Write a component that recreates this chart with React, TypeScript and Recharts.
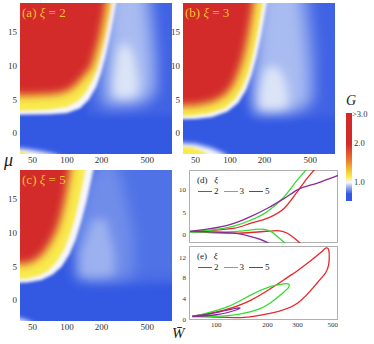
import React from 'react'
import { ComposedChart, Area, Line, XAxis, YAxis } from 'recharts'

type Pair = [number, number]
type Range = [number, [number, number]]

const SERIF = '"Liberation Serif", "Times New Roman", serif'

// heat map colours
const BLUE = '#3358e2'
const LIGHTBLUE = '#3f62e4'
const WHITE = '#f6f6fb'
const YELLOW = '#f8ea4e'
const RED = '#d3292b'
const LABEL = '#f2c12e'

const wTicks = [50, 100, 200, 500]
const muTicks = [0, 5, 10, 15]

// (a) xi = 2  -- region boundaries, [W, mu]
const redA: Pair[] = [[25, 5.6], [50, 5.6], [80, 5.8], [100, 6.2], [115, 6.9], [130, 7.8], [145, 8.8], [162, 9.7], [180, 12.2], [193, 14.1], [207, 16.6], [220, 19.1], [232, 22], [245, 26]]
const yellowA: Pair[] = [[25, 3.3], [39, 3.3], [71, 3.5], [100, 3.9], [125, 4.8], [145, 6.0], [168, 7.9], [184, 9.7], [201, 12.2], [214, 14.1], [229, 16.6], [244, 19.1], [258, 22], [272, 26]]
const whiteA: Pair[] = [[25, 2.7], [71, 2.8], [100, 3.0], [130, 3.7], [155, 5.0], [180, 6.9], [198, 8.9], [216, 11.3], [233, 13.8], [250, 16.4], [266, 19], [282, 22], [298, 26]]
const hazeA: Range[] = [[185, [4.6, 7]], [205, [3.8, 12]], [230, [3.6, 26]], [380, [3.8, 26]], [470, [4.2, 26]], [560, [5.0, 20]], [620, [6, 12]]]
const lobeA: Range[] = [[225, [4.8, 9]], [250, [4.6, 20]], [300, [4.6, 26]], [380, [4.7, 26]], [440, [5.0, 24]], [500, [5.6, 16]], [540, [6.5, 10]]]
const coreA: Range[] = [[255, [5.6, 8]], [280, [5.2, 12.5]], [330, [5.2, 13.5]], [380, [5.4, 11.5]], [415, [5.9, 8]]]
const lightA: Range[] = [[150, [2.6, 26]], [1000, [2.6, 26]]]
const spotWA: Range[] = [[30, [-6, -2.2]], [45, [-6, -2.4]], [62, [-6, -2.8]], [80, [-6, -3.2]], [90, [-6, -3.7]]]
const spotYA: Range[] = [[30, [-6, -2.5]], [40, [-6, -2.7]], [50, [-6, -3.3]]]

// (b) xi = 3
const redB: Pair[] = [[25, 4.0], [50, 4.1], [70, 4.6], [90, 5.6], [105, 7.0], [118, 8.9], [128, 10.7], [138, 12.9], [148, 15.5], [158, 18.4], [168, 22], [178, 26]]
const yellowB: Pair[] = [[25, 2.5], [45, 2.55], [65, 2.9], [90, 3.7], [112, 5.1], [130, 6.9], [145, 9.0], [158, 11.5], [170, 14], [183, 17], [197, 20], [212, 26]]
const whiteB: Pair[] = [[25, 2.0], [50, 2.1], [70, 2.4], [95, 3.2], [118, 4.5], [138, 6.4], [154, 8.6], [170, 11.3], [185, 14.2], [201, 17.6], [217, 21], [235, 26]]
const hazeB: Range[] = [[150, [3.6, 6]], [165, [3.0, 12]], [185, [2.9, 26]], [330, [3.0, 26]], [420, [3.4, 26]], [500, [4.0, 20]], [560, [5, 12]]]
const lobeB: Range[] = [[170, [3.4, 8]], [190, [3.2, 18]], [220, [3.2, 26]], [300, [3.3, 26]], [370, [3.6, 24]], [430, [4.2, 16]], [470, [5, 9]]]
const coreB: Range[] = [[180, [3.7, 6]], [200, [3.5, 9.5]], [240, [3.5, 10]], [285, [3.6, 9]], [320, [3.9, 6]]]
const lightB: Range[] = [[150, [2.3, 26]], [1000, [2.3, 26]]]
const spotWB: Range[] = [[30, [-6, -1.4]], [50, [-6, -1.6]], [68, [-6, -2.2]], [85, [-6, -2.9]], [98, [-6, -3.6]]]
const spotYB: Range[] = [[30, [-6, -1.9]], [46, [-6, -2.1]], [58, [-6, -2.7]], [66, [-6, -3.5]]]

// (c) xi = 5
const redC: Pair[] = [[25, 5.3], [45, 5.4], [55, 6.1], [64, 7.2], [72, 8.6], [81, 10.3], [89, 12.4], [96, 14.8], [103, 17.6], [110, 20.5], [120, 25]]
const yellowC: Pair[] = [[25, 3.0], [45, 3.2], [58, 3.7], [70, 4.5], [82, 5.8], [95, 7.6], [106, 9.7], [117, 12.1], [127, 14.7], [137, 17.3], [147, 20], [160, 25]]
const whiteC: Pair[] = [[25, 2.5], [45, 2.6], [60, 3.0], [75, 3.8], [90, 5.0], [105, 6.8], [119, 9.0], [133, 11.7], [148, 14.7], [163, 18], [178, 21], [195, 25]]
const hazeC: Range[] = [[120, [3.0, 26]], [250, [2.8, 26]], [450, [3.0, 26]], [700, [3.2, 26]], [1000, [3.2, 26]]]
const lobeC: Range[] = [[120, [3.2, 10]], [160, [3.0, 18]], [230, [3.0, 22]], [300, [3.2, 18]], [380, [3.6, 10]]]
const coreC: Range[] = [[130, [3.6, 7]], [170, [3.4, 12]], [220, [3.5, 12]], [260, [3.8, 7]]]
const lightC: Range[] = [[150, [2.6, 26]], [1000, [2.6, 26]]]
const spotWC: Range[] = [[30, [-6, -2.5]], [38, [-6, -2.7]], [46, [-6, -3.1]], [52, [-6, -3.7]]]
const spotYC: Range[] = []

// (d) phase boundaries, [W, mu]
const dRedUp: Pair[] = [[70, 0.72], [128, 1.5], [160, 2.6], [200, 3.7], [251, 5.9], [300, 9.6], [343, 12.6], [376, 14.4], [400, 15.6]]
const dRedLo: Pair[] = [[70, 0.72], [128, 0.37], [183, 0.7], [229, 0.96], [262, 0.37], [287, -0.7], [314, -2], [330, -3]]
const dGreenUp: Pair[] = [[70, 0.62], [128, 2.0], [160, 3.3], [200, 5.2], [251, 8.5], [300, 12.2], [336, 14.4], [360, 16]]
const dGreenLo: Pair[] = [[70, 0.62], [128, 0.74], [183, 1.26], [210, 0.74], [234, -0.7], [256, -2], [270, -3]]
const dPurpleUp: Pair[] = [[70, 0.8], [128, 2.6], [160, 4.1], [200, 5.9], [251, 8.1], [300, 10.0], [393, 11.5], [503, 13.0], [540, 13.4]]
const dPurpleLo: Pair[] = [[70, 0.8], [128, 0.37], [160, -0.37], [205, -2], [220, -3]]

// (e) closed loops, [W, mu] in drawing order
const eRed: Pair[] = [[72, 0.75], [102, 1.6], [160, 3.8], [251, 7.7], [300, 9.4], [359, 11.3], [410, 12.8], [440, 13.7], [458, 13.4], [462, 12], [458, 10.5], [440, 9], [393, 7.1], [300, 3.2], [210, 1.3], [146, 0.5], [100, 0.55], [72, 0.75]]
const eGreen: Pair[] = [[72, 0.6], [117, 2.55], [160, 4.8], [210, 6.4], [250, 6.9], [268, 6.8], [266, 6.2], [251, 5.4], [200, 2.9], [160, 1.6], [117, 0.83], [72, 0.6]]
const ePurple: Pair[] = [[72, 0.7], [100, 1.4], [131, 2.25], [133, 2.0], [100, 1.0], [72, 0.7]]

const xiColors = ['#e8262a', '#33dd33', '#8a2b96']
const xiNames = ['2', '3', '5']

const pts = (arr: Pair[]) => arr.map(([w, v]) => ({ w, v }))
const rng = (arr: Range[]) => arr.map(([w, v]) => ({ w, v }))

const tickFont = { fontSize: 9, fill: '#333', fontFamily: SERIF }
const smallFont = { fontSize: 7, fill: '#333', fontFamily: SERIF }

function HeatPanel({ left, top, tag, xi, red, yellow, white, haze, lobe, core, light, spotW, spotY, fills }: any) {
  const W = 172
  const H = 165
  const layer = (data: any, fill: string, cls: string, base?: number) => (
    <Area data={data} dataKey="v" baseValue={base} className={cls} fill={fill} fillOpacity={1}
      stroke="none" isAnimationActive={false} activeDot={false} />
  )
  return (
    <div style={{ position: 'absolute', left: left - 20, top, width: W, height: H }}>
      <div style={{ position: 'absolute', left: 20, top: 0, width: 152, height: 151, background: BLUE }} />
      <ComposedChart width={W} height={H} margin={{ top: 0, right: 0, bottom: 0, left: 0 }} style={{ position: 'absolute', left: 0, top: 0 }}>
        <XAxis dataKey="w" type="number" scale="log" domain={[39, 820]} allowDataOverflow ticks={wTicks}
          axisLine={false} tickLine={false} tickSize={2} tickMargin={1} height={14} tick={tickFont} />
        <YAxis type="number" domain={[-3.1, 19.3]} allowDataOverflow ticks={muTicks}
          axisLine={false} tickLine={false} tickSize={0} tickMargin={3} width={20} tick={tickFont} />
        {layer(rng(light), LIGHTBLUE, 'bl3')}
        {layer(rng(haze), fills[0], 'bl8')}
        {layer(rng(lobe), fills[1], 'bl8')}
        {layer(rng(core), fills[2], 'bl6')}
        {layer(rng(spotW), WHITE, 'bl3')}
        {layer(rng(spotY), YELLOW, 'bl2')}
        {layer(pts(white), WHITE, 'bl2', 40)}
        {layer(pts(yellow), YELLOW, 'bl2', 40)}
        {layer(pts(red), RED, 'bl5', 40)}
      </ComposedChart>
      <div style={{ position: 'absolute', left: 22, top: 2, fontSize: 13, color: LABEL, whiteSpace: 'nowrap' }}>
        ({tag}) <i>ξ</i> = {xi}
      </div>
    </div>
  )
}

function LinePanel({ top, height, yDomain, yTicks, showX, series, tag }: any) {
  const yW = 14
  const xH = showX ? 12 : 0
  return (
    <div style={{ position: 'absolute', left: 189 - yW, top, width: 149 + yW, height: height + xH }}>
      <div style={{ position: 'absolute', left: yW, top: 0, width: 149, height, border: '1px solid #b0b0b0', boxSizing: 'border-box' }} />
      <ComposedChart width={149 + yW} height={height + xH} margin={{ top: 0, right: 0, bottom: 0, left: 0 }} style={{ position: 'absolute', left: 0, top: 0 }}>
        <XAxis dataKey="w" type="number" scale="log" domain={[69, 520]} allowDataOverflow ticks={[100, 200, 300, 400, 500]}
          hide={!showX} axisLine={false} tickLine={false} tickSize={1} tickMargin={1} height={xH} tick={smallFont} />
        <YAxis type="number" domain={yDomain} allowDataOverflow ticks={yTicks}
          axisLine={false} tickLine={false} tickSize={0} tickMargin={3} width={yW} tick={smallFont} />
        {series.map((s: any, i: number) => (
          <Line key={i} data={pts(s.data)} dataKey="v" type={s.curve} stroke={s.color} strokeWidth={1.3}
            dot={false} activeDot={false} isAnimationActive={false} />
        ))}
      </ComposedChart>
      <div style={{ position: 'absolute', left: yW + 8, top: 5, fontSize: 9, color: '#222', whiteSpace: 'nowrap' }}>
        ({tag})&nbsp;&nbsp;&nbsp;<i>ξ</i>
      </div>
      <div style={{ position: 'absolute', left: yW + 9, top: 16, display: 'flex', alignItems: 'center', fontSize: 9, color: '#222' }}>
        {xiNames.map((n, i) => (
          <span key={n} style={{ display: 'flex', alignItems: 'center', marginRight: 5 }}>
            <span style={{ display: 'inline-block', width: 14, height: 0, borderTop: `1.3px solid ${xiColors[i]}`, marginRight: 2 }} />
            {n}
          </span>
        ))}
      </div>
    </div>
  )
}

export default function App() {
  const dSeries = [
    { data: dRedUp, color: xiColors[0], curve: 'monotone' },
    { data: dRedLo, color: xiColors[0], curve: 'monotone' },
    { data: dGreenUp, color: xiColors[1], curve: 'monotone' },
    { data: dGreenLo, color: xiColors[1], curve: 'monotone' },
    { data: dPurpleUp, color: xiColors[2], curve: 'monotone' },
    { data: dPurpleLo, color: xiColors[2], curve: 'monotone' },
  ]
  const eSeries = [
    { data: eRed, color: xiColors[0], curve: 'natural' },
    { data: eGreen, color: xiColors[1], curve: 'natural' },
    { data: ePurple, color: xiColors[2], curve: 'natural' },
  ]
  const blurs = [2, 3, 5, 6, 8]
  return (
    <div style={{ position: 'absolute', left: 0, top: 0, width: 374, height: 344, background: '#fff', fontFamily: SERIF, overflow: 'hidden' }}>
      <svg width={0} height={0} style={{ position: 'absolute' }}>
        <defs>
          {blurs.map((s) => (
            <filter key={s} id={`blur${s}`} filterUnits="userSpaceOnUse" x={-200} y={-200} width={700} height={700}>
              <feGaussianBlur stdDeviation={s * 0.8} />
            </filter>
          ))}
        </defs>
      </svg>
      <style>{blurs.map((s) => `.bl${s} .recharts-area-area{filter:url(#blur${s})}`).join('\n')}</style>

      <HeatPanel left={20} top={3} tag="a" xi="2" red={redA} yellow={yellowA} white={whiteA} haze={hazeA} lobe={lobeA} core={coreA}
        light={lightA} spotW={spotWA} spotY={spotYA} fills={['#6f8cea', '#a9bcf1', '#dce4f7']} />
      <HeatPanel left={183} top={3} tag="b" xi="3" red={redB} yellow={yellowB} white={whiteB} haze={hazeB} lobe={lobeB} core={coreB}
        light={lightB} spotW={spotWB} spotY={spotYB} fills={['#6f8cea', '#a9bcf1', '#dce4f7']} />
      <HeatPanel left={20} top={170} tag="c" xi="5" red={redC} yellow={yellowC} white={whiteC} haze={hazeC} lobe={lobeC} core={coreC}
        light={lightC} spotW={spotWC} spotY={spotYC} fills={['#4f72e6', '#6f8dea', '#9cb1ef']} />

      <LinePanel top={170} height={73} yDomain={[-1.8, 14.4]} yTicks={[0, 5, 10]} showX={false} series={dSeries} tag="d" />
      <LinePanel top={246} height={74} yDomain={[0, 14.1]} yTicks={[0, 4, 8, 12]} showX series={eSeries} tag="e" />

      {/* colour bar */}
      <div style={{ position: 'absolute', left: 346, top: 113, width: 6, height: 88,
        background: 'linear-gradient(to bottom, #d3292b 0%, #d3292b 35%, #e8702e 52%, #f0b030 62%, #f8ea4e 72%, #f6f6fb 79%, #9fb2ef 84%, #3358e2 92%, #3358e2 100%)' }} />
      <div style={{ position: 'absolute', left: 346, top: 93, fontSize: 14, fontStyle: 'italic', color: '#222' }}>G</div>
      <div style={{ position: 'absolute', left: 352, top: 109, fontSize: 8.5, color: '#333' }}>&gt;3.0</div>
      <div style={{ position: 'absolute', left: 354, top: 138, fontSize: 8.5, color: '#333' }}>2.0</div>
      <div style={{ position: 'absolute', left: 354, top: 177, fontSize: 8.5, color: '#333' }}>1.0</div>

      <div style={{ position: 'absolute', left: 4, top: 150, fontSize: 18, fontStyle: 'italic', color: '#222' }}>μ</div>
      <div style={{ position: 'absolute', left: 172, top: 325, fontSize: 15, fontStyle: 'italic', color: '#222', lineHeight: '16px' }}>W̄</div>
    </div>
  )
}
